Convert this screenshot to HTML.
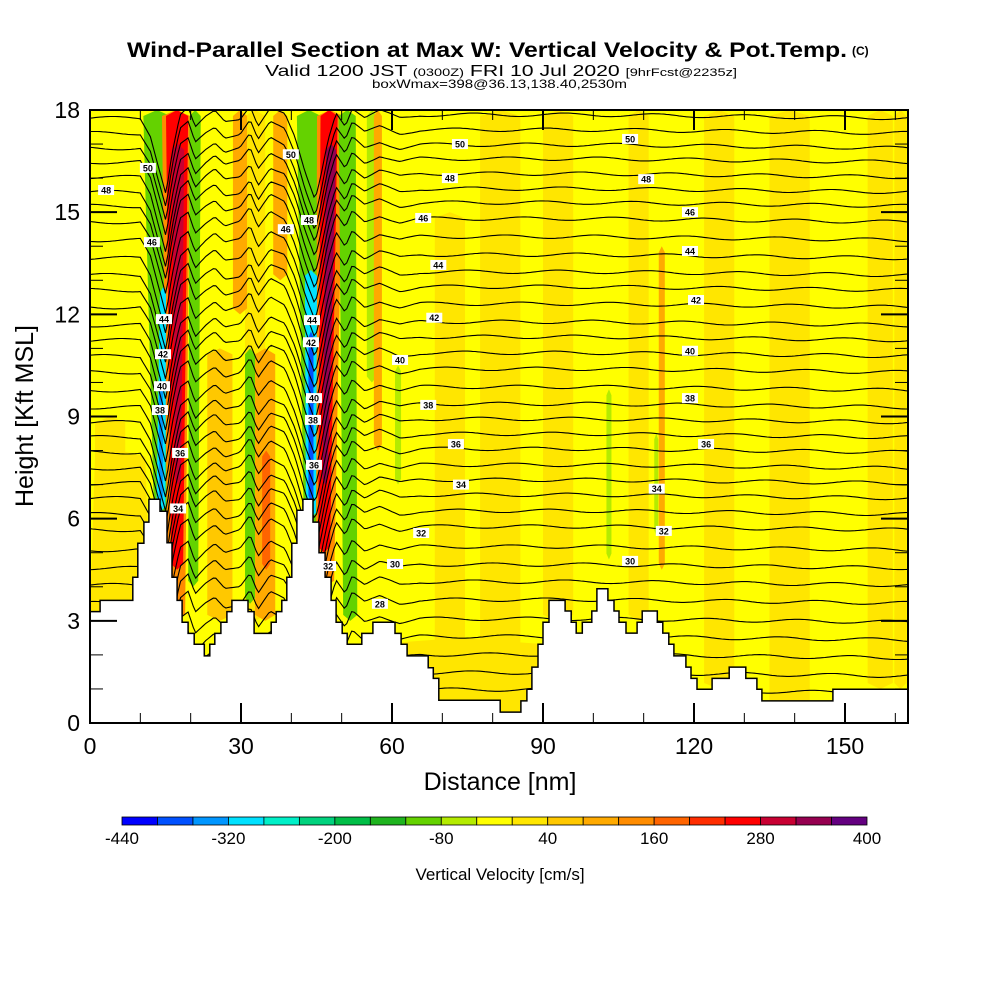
<!DOCTYPE html>
<html><head><meta charset="utf-8">
<style>
html,body{margin:0;padding:0;background:#fff;}
svg{display:block;font-family:"Liberation Sans",Arial,sans-serif;}
</style></head>
<body>
<svg id="chart" width="1000" height="1000" viewBox="0 0 1000 1000" xmlns="http://www.w3.org/2000/svg">
<rect width="1000" height="1000" fill="#fff"/>
<g>
<text x="127" y="57" font-size="21" font-weight="bold" textLength="720" lengthAdjust="spacingAndGlyphs">Wind-Parallel Section at Max W: Vertical Velocity &amp; Pot.Temp.</text>
<text x="852" y="55" font-size="12" font-weight="bold">(C)</text>
<text x="265" y="76" font-size="16" textLength="472" lengthAdjust="spacingAndGlyphs">Valid 1200 JST <tspan font-size="11">(0300Z)</tspan> FRI 10 Jul 2020 <tspan font-size="11">[9hrFcst@2235z]</tspan></text>
<text x="372" y="88" font-size="12" textLength="255" lengthAdjust="spacingAndGlyphs">boxWmax=398@36.13,138.40,2530m</text>
</g>
<defs><clipPath id="plotclip"><rect x="90" y="110" width="818" height="613"/></clipPath></defs>
<g id="plot" clip-path="url(#plotclip)">
<rect x="90" y="110" width="818" height="613" fill="#ffff00"/>
<g id="bands"></g>
<g id="contours"></g>
<g id="terrain"></g>
</g>
<g id="labels"></g>
<rect x="90" y="110" width="818" height="613" fill="none" stroke="#000" stroke-width="2"/>
<g id="axes"></g>
<g id="colorbar"></g>
<text x="500" y="790" font-size="25" text-anchor="middle">Distance [nm]</text>
<text transform="translate(33,416) rotate(-90)" font-size="25" text-anchor="middle">Height [Kft MSL]</text>
<text x="500" y="880" font-size="17" text-anchor="middle">Vertical Velocity [cm/s]</text>
</svg>
<script>
// ---- data ----
const xTicks = [0,30,60,90,120,150];
const yTicks = [0,3,6,9,12,15,18];
const cbBounds = [-440,-400,-360,-320,-280,-240,-200,-160,-120,-80,-40,0,40,80,120,160,200,240,280,320,360,400];
const cbLabels = [-440,-320,-200,-80,40,160,280,400];
const cbColors = ["#0000ff","#0050ff","#0096ff","#00e1ff","#00f0c8","#00d27d","#00be46","#1eb41e","#64d200","#b4eb00","#ffff00","#ffe600","#ffc800","#ffaa00","#ff8c00","#ff6400","#ff2d00","#ff0000","#c80032","#960050","#640080"];
// bands: top centre (nm), top width, bottom centre, bottom width, top kft, bottom kft, value (cm/s)
const bandTopX = [4,81.5,93,125,139,157,161,109,71.5,32.8,73.5,6, 25.8,29.8,37.8,13.3,17.1,17.3,17.5,14.5,14.1,20.9, 43.5,47.7,47.5,47.9,43.9,43.9,51.1, 31.8,34.8,35,56,57.2,61.2,103.1,113.6,112.5];
const bandTopW = [6,8,6,6,8,5,2.4,4,6,4,32,10, 5,2.8,2.8,5.4,5.6,4.4,2.4,1.2,0.8,2.2, 4.8,5.2,3.4,2,2.4,1,3.4, 2,4,1.6,2,1.6,1.2,1,1.2,0.8];
const bandBotX = [4,81.5,93,125,139,157,161,109,71.5,32.8,73.5,6, 25.8,29.8,37.8,14.1,17.2,17.3,17.5,14.1,14.1,20.5, 43.9,46.7,46.5,46.7,43.9,43.9,51.7, 31.8,34.8,35,56,57.2,61.2,103.1,113.6,112.5];
const bandBotW = [6,8,6,6,8,5,2.4,4,6,4,32,12, 5,2.8,2.8,2.6,3.4,2.4,1.2,1.8,0.8,2.0, 2.8,3.6,2.4,1,2,1,2.8, 2,4,1.6,2,1.6,1.2,1,1.2,0.8];
const bandTopK = [9,18,18,18,18,18,18,18,15,18,2.5,8, 11,18,18,18,18,18,17,12.8,10,18, 18,18,18,17,13.3,11.5,18, 11,11,8,18,18,10.5,9.8,14,8.5];
const bandBotK = [3.3,0,3,1,0.5,1,1,3,0,3,0,3, 3,12,13,5.5,3,4.5,7,6.2,6.5,4, 5.5,4,5,7,6,6.5,3, 3.5,3,4.5,10,8,7,4.8,4.5,5.5];
const bandVal = [20,20,20,20,20,20,20,20,20,20,20,20, 60,100,100,-100,140,250,300,-300,-340,-100, -100,140,250,340,-300,-380,-120, -100,100,180,-60,100,-60,-60,100,-60];
// terrain steps (start nm, top kft)
const terrX = [0,2.0,8.5,9.5,10.7,11.7,13.9,15.3,16.3,17.3,18.3,19.5,20.7,22.7,23.8,24.8,26.0,27.2,28.2,31.4,32.6,36.0,37.0,38.1,39.1,40.1,41.1,42.3,44.3,45.5,46.7,47.9,48.9,50.1,51.1,54.0,56.2,60.6,61.8,63.0,67.2,68.2,69.3,81.5,85.6,86.8,87.8,89.0,90.0,91.2,94.4,95.6,96.6,97.8,99.7,100.7,102.9,104.1,105.1,106.5,108.7,109.7,112.7,113.8,115.0,116.0,118.4,119.4,120.6,123.6,127.0,130.3,132.5,133.5,147.6];
const terrK = [3.27,3.6,4.28,5.28,5.9,6.57,6.22,5.29,4.28,3.6,2.96,2.63,2.31,1.97,2.31,2.63,2.96,3.27,3.6,3.27,2.63,2.96,3.27,3.6,4.28,5.28,6.25,6.57,5.9,5.0,4.28,3.6,2.96,2.63,2.31,2.63,2.96,2.63,2.31,1.97,1.62,1.31,0.67,0.32,0.65,0.99,1.64,2.31,2.96,3.6,3.29,2.96,2.64,2.96,3.29,3.94,3.6,3.29,2.96,2.64,2.96,3.29,2.96,2.64,2.31,1.97,1.64,1.31,0.99,1.31,1.64,1.31,0.99,0.65,0.99];
const terrEnd = 162.5;
// theta contour base heights (kft, undisturbed) and deflection profile
const thetaBase = [17.76,17.32,16.88,16.47,16.03,15.59,15.18,14.71,14.18,13.65,13.15,12.71,12.21,11.68,11.24,10.77,10.30,9.77,9.27,8.83,8.39,7.95,7.48,7.04,6.60,6.13,5.67,5.08,4.55,4.05,3.52,2.96,2.44,1.91,1.38,0.88];
const dispX = [0,10,12,14,15.1,16.3,17.9,19.5,20.9,22.9,24.8,26.8,29.8,31.8,33.4,35.8,38.7,40.7,42.7,44.7,45.7,47.3,48.9,50.7,52.1,54.6,57.6,61.6,65.6,100,163];
const dispY = [0,0,-0.5,-1.6,-2.2,-1.0,0.1,0.3,-0.3,0,0.2,-0.1,0,0.4,-0.2,0.3,0.1,-0.6,-1.6,-2.4,-1.8,-0.6,0.2,-0.2,0.3,0,0.2,0,0.1,0.1,0];
// contour labels: value, nm, kft
const lblVal = [50,48,50,48,46,46,44,42,40,38,36,34,44,42,40,38,36,32,50,48,46,44,42,40,38,36,34,32,30,28,50,48,46,44,42,40,38,36,34,32,30];
const lblX = [11.5,3.2,39.9,43.5,38.9,12.3,14.7,14.5,14.3,13.9,17.9,17.5,44.1,43.9,44.5,44.3,44.5,47.3,73.5,71.5,66.2,69.2,68.4,61.6,67.2,72.7,73.7,65.8,60.6,57.6,107.3,110.5,119.2,119.2,120.4,119.2,119.2,122.4,112.6,114,107.3];
const lblK = [16.3,15.65,16.7,14.77,14.5,14.12,11.86,10.83,9.89,9.19,7.93,6.3,11.83,11.18,9.54,8.9,7.58,4.61,17.0,16.0,14.83,13.45,11.9,10.66,9.34,8.19,7.0,5.58,4.67,3.50,17.15,15.97,15.0,13.86,12.42,10.93,9.54,8.19,6.88,5.64,4.76];

// ---- helpers ----
const NS="http://www.w3.org/2000/svg";
const X0=90,X1=908,Y0=723,Y1=110;
const pxPerNm=(845-90)/150, pxPerK=(723-110)/18;
function sx(nm){return X0+nm*pxPerNm;}
function sy(k){return Y0-k*pxPerK;}
function colorFor(v){for(let i=0;i<cbColors.length;i++){if(v<cbBounds[i+1])return cbColors[i];}return cbColors[cbColors.length-1];}
function mk(tag,attrs,parent){const e=document.createElementNS(NS,tag);for(const k in attrs)e.setAttribute(k,attrs[k]);parent.appendChild(e);return e;}
function disp(x){for(let i=0;i<dispX.length-1;i++){if(x>=dispX[i]&&x<=dispX[i+1]){const t=(x-dispX[i])/(dispX[i+1]-dispX[i]);return dispY[i]+t*(dispY[i+1]-dispY[i]);}}return 0;}

// bands
const gB=document.getElementById('bands');
for(let i=0;i<bandVal.length;i++){
  const tL=sx(bandTopX[i]-bandTopW[i]/2),tR=sx(bandTopX[i]+bandTopW[i]/2);
  const bL=sx(bandBotX[i]-bandBotW[i]/2),bR=sx(bandBotX[i]+bandBotW[i]/2);
  const yt=sy(bandTopK[i]),yb=sy(bandBotK[i]);
  const tc=(tL+tR)/2,bc=(bL+bR)/2;
  const pts=[[tL,yt+6],[tc,yt],[tR,yt+6],[bR,yb-6],[bc,yb],[bL,yb-6]].map(p=>p.join(',')).join(' ');
  const p=mk('polygon',{points:pts,fill:colorFor(bandVal[i])},gB);
  
  
}
// contours
const gC=document.getElementById('contours');
for(let j=0;j<thetaBase.length;j++){
  let d='';
  for(let x=0;x<=163;x+=0.5){
    const wob=0.05*Math.sin(x*0.35+j*1.3);
    const y=thetaBase[j]+disp(x)+wob;
    d+=(x===0?'M':'L')+sx(x).toFixed(1)+','+sy(y).toFixed(1);
  }
  const p=mk('path',{d:d,fill:'none',stroke:'#000','stroke-width':1.1},gC);
  
  
}
// terrain
const gT=document.getElementById('terrain');
let td='M'+sx(0)+','+(Y0+5);
for(let i=0;i<terrX.length;i++){
  const xe=i<terrX.length-1?terrX[i+1]:terrEnd;
  td+='L'+sx(terrX[i]).toFixed(1)+','+sy(terrK[i]).toFixed(1)+'L'+sx(xe).toFixed(1)+','+sy(terrK[i]).toFixed(1);
}
td+='L'+sx(terrEnd)+','+(Y0+5)+'Z';
const tp=mk('path',{d:td,fill:'#fff',stroke:'#000','stroke-width':1.5},gT);


// contour labels
const gL=document.getElementById('labels');
for(let i=0;i<lblVal.length;i++){
  const cx=sx(lblX[i]),cy=sy(lblK[i]);
  const g=mk('g',{},gL);
  
  
  mk('rect',{x:cx-8,y:cy-5,width:16,height:10,fill:'#fff'},g);
  const t=mk('text',{x:cx,y:cy+3.5,'font-size':9,'font-weight':'bold','text-anchor':'middle'},g);
  t.textContent=lblVal[i];
}
// axes
const gA=document.getElementById('axes');
for(let v=0;v<=160;v+=10){
  const major=xTicks.includes(v);const L=major?20:10;const x=sx(v);
  if(x>X1)continue;
  const t1=mk('line',{x1:x,y1:Y0,x2:x,y2:Y0-L,stroke:'#000','stroke-width':major?2:1},gA);
  
  
  const t2=mk('line',{x1:x,y1:Y1,x2:x,y2:Y1+L,stroke:'#000','stroke-width':major?2:1},gA);
  
  
}
xTicks.forEach(v=>{const t=mk('text',{x:sx(v),y:754,'font-size':23,'text-anchor':'middle'},gA);
  
  
  t.textContent=v;});
for(let v=0;v<=18;v++){
  const major=yTicks.includes(v);const L=major?27:13;const y=sy(v);
  const t1=mk('line',{x1:X0,y1:y,x2:X0+L,y2:y,stroke:'#000','stroke-width':major?2:1},gA);
  
  
  const t2=mk('line',{x1:X1,y1:y,x2:X1-L,y2:y,stroke:'#000','stroke-width':major?2:1},gA);
  
  
}
yTicks.forEach(v=>{const t=mk('text',{x:80,y:sy(v)+8,'font-size':23,'text-anchor':'end'},gA);
  
  
  t.textContent=v;});
// colorbar
const gCb=document.getElementById('colorbar');
const cbL=122,cbR=867,cbT=817,cbH=8,bw=(cbR-cbL)/cbColors.length;
cbColors.forEach((c,i)=>{const r=mk('rect',{x:cbL+i*bw,y:cbT,width:bw,height:cbH,fill:c,stroke:'#000','stroke-width':0.8},gCb);
  
  });
cbLabels.forEach(v=>{const i=cbBounds.indexOf(v);const t=mk('text',{x:cbL+i*bw,y:844,'font-size':17,'text-anchor':'middle'},gCb);
  
  
  t.textContent=v;});
</script>
</body></html>
